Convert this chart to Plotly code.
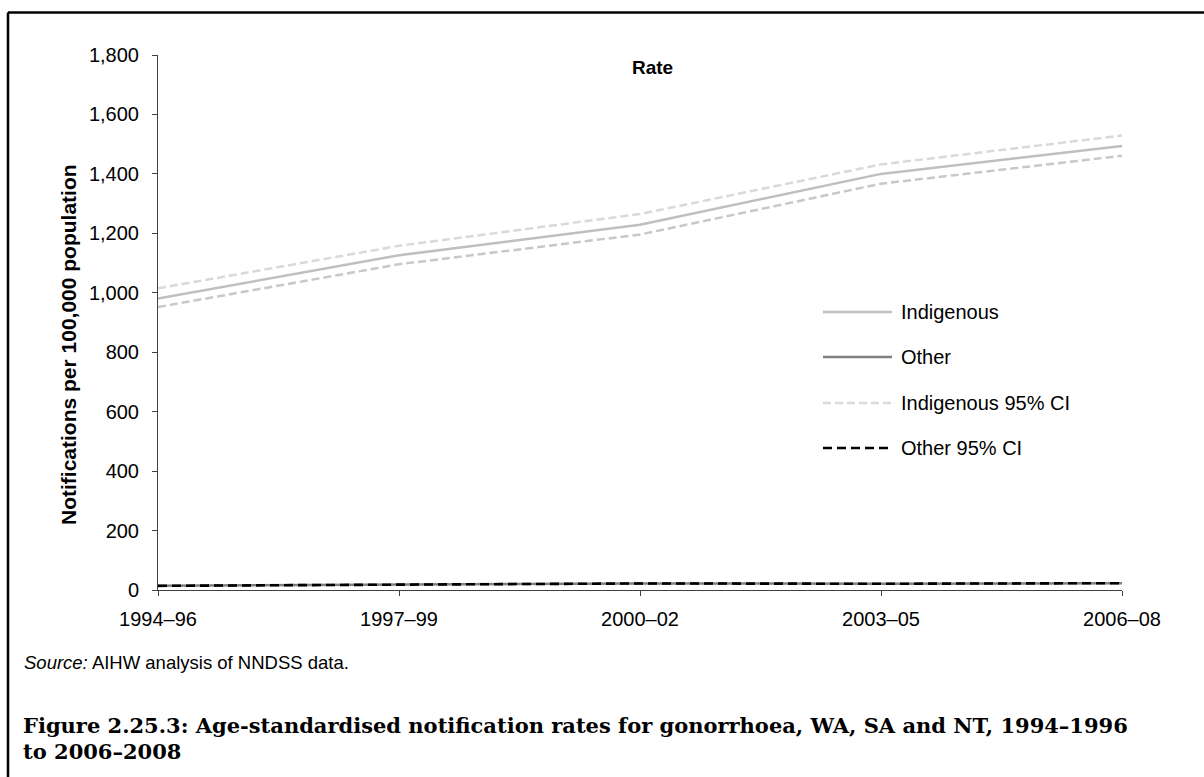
import plotly.graph_objects as go

# Three-year periods on the x axis
periods = ["1994–96", "1997–99", "2000–02", "2003–05", "2006–08"]

# Age-standardised notification rates per 100,000 population
indigenous = [981, 1126, 1229, 1400, 1494]
indigenous_ci_upper = [1015, 1158, 1265, 1432, 1529]
indigenous_ci_lower = [952, 1096, 1196, 1367, 1461]
other = [14, 19, 22, 21, 23]
other_ci_upper = [15, 20, 23, 22, 24]
other_ci_lower = [13, 18, 21, 20, 22]

y_ticks = [0, 200, 400, 600, 800, 1000, 1200, 1400, 1600, 1800]

W, H = 1204, 777
L, R, T, B = 158, 1122, 55, 590  # plot area in pixels


def px(x):
    return (x - L) / (R - L)


def py(y):
    return (B - y) / (B - T)


FONT = "Liberation Sans, Arial, sans-serif"
SERIF = "DejaVu Serif, Book Antiqua, serif"

fig = go.Figure()

fig.add_trace(go.Scatter(x=periods, y=indigenous_ci_upper, mode="lines",
                         line=dict(color="#d9d9d9", width=2.5, dash="8px,4px"),
                         showlegend=False, hoverinfo="skip"))
fig.add_trace(go.Scatter(x=periods, y=indigenous_ci_lower, mode="lines",
                         line=dict(color="#c8c8c8", width=2.5, dash="8px,4px"),
                         showlegend=False, hoverinfo="skip"))
fig.add_trace(go.Scatter(x=periods, y=indigenous, mode="lines",
                         line=dict(color="#bfbfbf", width=2.5),
                         showlegend=False))
fig.add_trace(go.Scatter(x=periods, y=other, mode="lines",
                         line=dict(color="#808080", width=2.5),
                         showlegend=False))
fig.add_trace(go.Scatter(x=periods, y=other_ci_lower, mode="lines",
                         line=dict(color="#000000", width=2, dash="9px,5px"),
                         showlegend=False, hoverinfo="skip"))
fig.add_trace(go.Scatter(x=periods, y=other_ci_upper, mode="lines",
                         line=dict(color="#000000", width=2, dash="9px,5px"),
                         showlegend=False, hoverinfo="skip"))

shapes = []
annotations = []

# Hand-drawn legend: long line samples with labels
legend_items = [
    ("Indigenous", "#bfbfbf", "solid"),
    ("Other", "#808080", "solid"),
    ("Indigenous 95% CI", "#d9d9d9", "8px,4px"),
    ("Other 95% CI", "#000000", "9px,5px"),
]
legend_y = [312, 357, 403, 448]
for (label, color, dash), ly in zip(legend_items, legend_y):
    shapes.append(dict(type="line", xref="paper", yref="paper",
                       x0=px(823), x1=px(892), y0=py(ly), y1=py(ly),
                       line=dict(color=color, width=2.5, dash=dash)))
    annotations.append(dict(text=label, xref="paper", yref="paper",
                            x=px(899), y=py(ly), xanchor="left", yanchor="middle",
                            showarrow=False, font=dict(family=FONT, size=20, color="#000")))

# Outer frame (top and left edges)
shapes.append(dict(type="line", xref="paper", yref="paper",
                   x0=px(8), x1=px(1210), y0=py(12.5), y1=py(12.5),
                   line=dict(color="#000", width=2.5)))
shapes.append(dict(type="line", xref="paper", yref="paper",
                   x0=px(8), x1=px(8), y0=py(12.5), y1=py(790),
                   line=dict(color="#000", width=2.5)))

# Chart title
annotations.append(dict(text="<b>Rate</b>", xref="paper", yref="paper",
                        x=px(652), y=py(68), xanchor="center", yanchor="middle",
                        showarrow=False, font=dict(family=FONT, size=19, color="#000")))

# Y axis title
annotations.append(dict(text="<b>Notifications per 100,000 population</b>",
                        xref="paper", yref="paper", x=px(68), y=py(345),
                        xanchor="center", yanchor="middle", textangle=-90,
                        showarrow=False, font=dict(family=FONT, size=21, color="#000")))

# Source note
annotations.append(dict(text="<i>Source:</i> AIHW analysis of NNDSS data.",
                        xref="paper", yref="paper", x=px(22), y=py(662),
                        xanchor="left", yanchor="middle",
                        showarrow=False, font=dict(family=FONT, size=18.5, color="#000")))

# Figure caption
annotations.append(dict(text="<b>Figure 2.25.3: Age-standardised notification rates for gonorrhoea, WA, SA and NT, 1994–1996</b>",
                        xref="paper", yref="paper", x=px(21), y=py(725),
                        xanchor="left", yanchor="middle",
                        showarrow=False, font=dict(family=SERIF, size=21, color="#000")))
annotations.append(dict(text="<b>to 2006–2008</b>",
                        xref="paper", yref="paper", x=px(21), y=py(751),
                        xanchor="left", yanchor="middle",
                        showarrow=False, font=dict(family=SERIF, size=21, color="#000")))

fig.update_layout(
    width=W, height=H,
    margin=dict(l=L, r=W - R, t=T, b=H - B, pad=0),
    paper_bgcolor="white", plot_bgcolor="white",
    showlegend=False,
    shapes=shapes, annotations=annotations,
    font=dict(family=FONT, size=20, color="#000"),
)

fig.update_xaxes(
    type="category", range=[0, len(periods) - 1],
    showgrid=False, zeroline=False,
    showline=True, linecolor="#404040", linewidth=1,
    ticks="outside", ticklen=5, tickcolor="#404040", ticklabelstandoff=6,
    tickfont=dict(family=FONT, size=20, color="#000"),
)
fig.update_yaxes(
    range=[0, 1800], tickvals=y_ticks, tickformat=",",
    showgrid=False, zeroline=False,
    showline=True, linecolor="#404040", linewidth=1,
    ticks="outside", ticklen=5, tickcolor="#404040", ticklabelstandoff=9,
    tickfont=dict(family=FONT, size=20, color="#000"),
)

fig.write_html("out.html")
